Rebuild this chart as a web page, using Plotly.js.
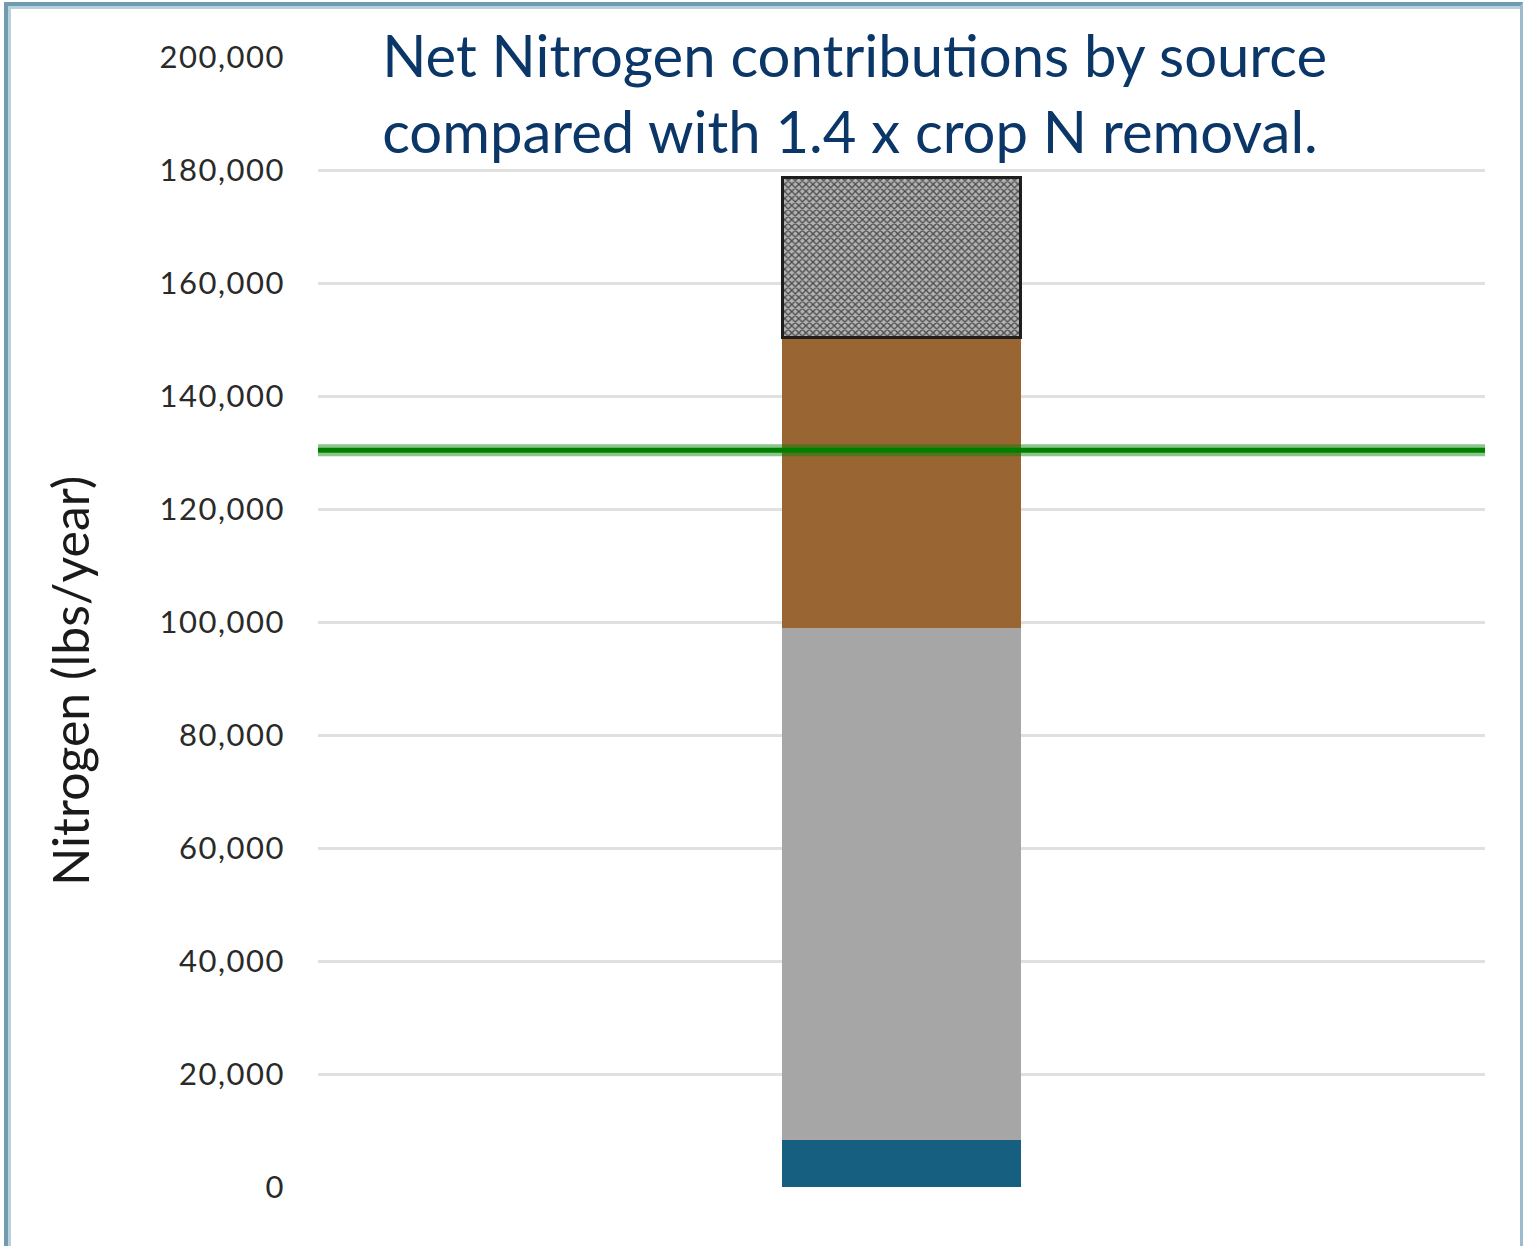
<!DOCTYPE html>
<html>
<head>
<meta charset="utf-8">
<script src="https://cdn.plot.ly/plotly-3.0.1.min.js"></script>
<style>
  html, body { margin: 0; padding: 0; background: #ffffff; }
  #wrap { position: relative; width: 1524px; height: 1246px; overflow: hidden; }
  #chart { position: absolute; left: 0; top: 0; width: 1524px; height: 1246px; }
  #frame {
    position: absolute; left: 4px; top: 2px; width: 1512px; height: 1260px;
    border-left: 4px solid #6f9bb0; border-top: 4px solid #6f9bb0; border-right: 3px solid #9dbccb;
    box-shadow: inset 3px 3px 0 #b9d1dd; pointer-events: none;
  }
  #chart .ytick text { letter-spacing: 1.5px; }
</style>
</head>
<body>
<div id="wrap">
  <div id="chart"></div>
  <div id="frame"></div>
</div>
<script>
// ---- data ----
const categories = ['Net N'];
const seriesNames = ['Source A', 'Source B', 'Source C', 'Source D'];
const sourceA = [8300];     // blue (bottom)
const sourceB = [90600];    // gray
const sourceC = [51400];    // brown
const sourceD = [28300];    // hatched (top)
const cropRemovalX = [0, 1];
const cropRemoval = [130400, 130400]; // 1.4 x crop N removal
const yTickVals = [0, 20000, 40000, 60000, 80000, 100000, 120000, 140000, 160000, 180000, 200000];
const titleText = 'Net Nitrogen contributions by source<br>compared with 1.4 x crop N removal.';
const yTitleText = 'Nitrogen (lbs/year)';

const barWidth = 0.204;
const traces = [
  { type: 'bar', name: seriesNames[0], x: categories, y: sourceA, width: barWidth,
    marker: { color: '#175f80', line: { width: 0 } } },
  { type: 'bar', name: seriesNames[1], x: categories, y: sourceB, width: barWidth,
    marker: { color: '#a6a6a6', line: { width: 0 } } },
  { type: 'bar', name: seriesNames[2], x: categories, y: sourceC, width: barWidth,
    marker: { color: '#996633', line: { width: 0 } } },
  { type: 'bar', name: seriesNames[3], x: categories, y: sourceD, width: barWidth,
    marker: { color: '#999999', line: { color: '#1e1e1e', width: 3 },
      pattern: { shape: 'x', fgcolor: '#4a4a4a', bgcolor: '#b3b3b3', size: 5, solidity: 0.45 } } },
  { type: 'scatter', mode: 'lines', name: '1.4 x crop N removal (halo)', x: cropRemovalX, y: cropRemoval,
    xaxis: 'x2', yaxis: 'y', line: { color: 'rgba(0,128,0,0.45)', width: 12 }, hoverinfo: 'skip' },
  { type: 'scatter', mode: 'lines', name: '1.4 x crop N removal', x: cropRemovalX, y: cropRemoval,
    xaxis: 'x2', yaxis: 'y', line: { color: '#008000', width: 5 } }
];

const layout = {
  width: 1524, height: 1246,
  margin: { l: 318, r: 39, t: 57, b: 59 },
  paper_bgcolor: '#ffffff', plot_bgcolor: '#ffffff',
  barmode: 'stack',
  showlegend: false,
  title: {
    text: titleText,
    font: { family: 'Lato, "Open Sans", sans-serif', size: 58, color: '#0b3668' },
    xref: 'paper', x: 0.055, xanchor: 'left',
    yref: 'container', y: 0.938, yanchor: 'top', align: 'left'
  },
  annotations: [{
    text: yTitleText, textangle: -90, showarrow: false,
    xref: 'paper', x: -0.2125, xanchor: 'center',
    yref: 'paper', y: 0.448, yanchor: 'middle',
    font: { family: 'Lato, "Open Sans", sans-serif', size: 50, color: '#1a1a1a' }
  }],
  xaxis: { type: 'category', range: [-0.5, 0.5], showgrid: false, zeroline: false,
    showticklabels: false, ticks: '', showline: false, fixedrange: true },
  xaxis2: { overlaying: 'x', range: [0, 1], visible: false, fixedrange: true },
  yaxis: {
    range: [0, 200000], tickvals: yTickVals, tickformat: ',d',
    showgrid: true, gridcolor: '#e0e0e0', gridwidth: 3, zeroline: false, showline: false,
    ticks: '', ticklabelstandoff: 32,
    tickfont: { family: 'Lato, "Open Sans", sans-serif', size: 31, color: '#2a2a2a' },
    automargin: false
  }
};

Plotly.newPlot('chart', traces, layout, { displayModeBar: false, staticPlot: true });
</script>
</body>
</html>
